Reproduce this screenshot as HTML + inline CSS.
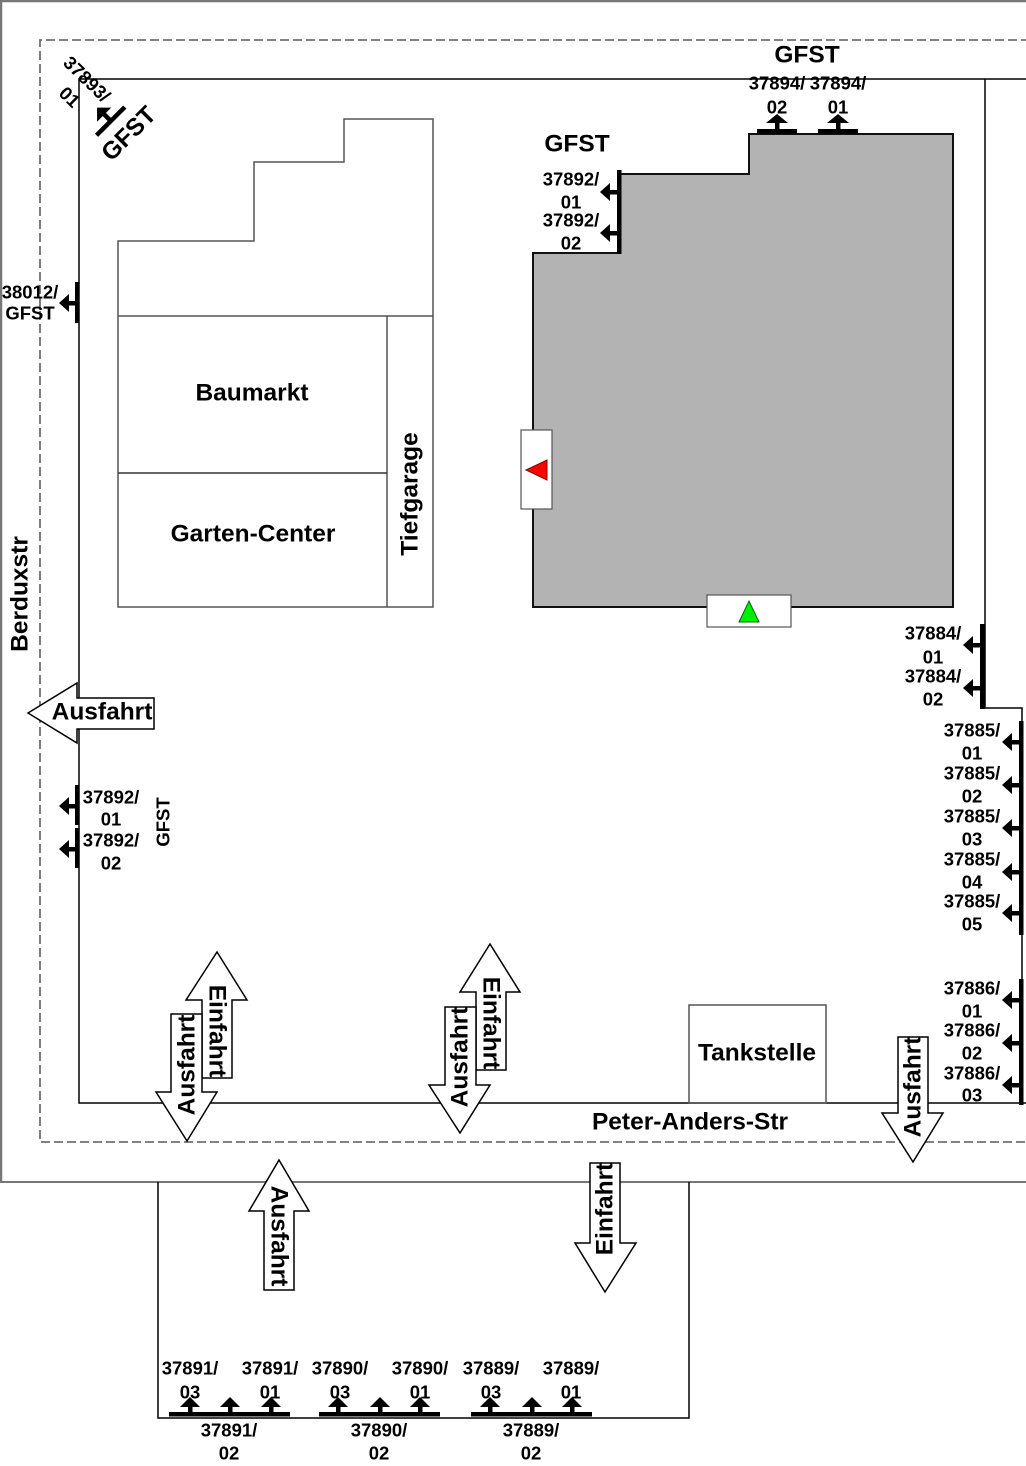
<!DOCTYPE html>
<html>
<head>
<meta charset="utf-8">
<style>
  html,body{margin:0;padding:0;background:#fff;}
  svg{display:block;}
  text{font-family:"Liberation Sans",Arial,sans-serif;font-weight:bold;fill:#000;}
  .s{font-size:18.5px;}
  .b{font-size:24.5px;}
</style>
</head>
<body>
<svg width="1026" height="1466" viewBox="0 0 1026 1466" xmlns="http://www.w3.org/2000/svg">
  <!-- outer gray frame -->
  <path d="M1 1182 L1 1 L1030 1" fill="none" stroke="#777" stroke-width="2.5"/>
  <line x1="0" y1="1182" x2="1026" y2="1182" stroke="#777" stroke-width="2"/>
  <!-- dashed boundary -->
  <path d="M1030 40 L40 40 L40 1142 L1030 1142" fill="none" stroke="#707070" stroke-width="1.8" stroke-dasharray="9,4"/>
  <!-- property line -->
  <path d="M1030 79 L79 79 L79 1103 L1030 1103" fill="none" stroke="#000" stroke-width="1.5"/>
  <path d="M985 79 L985 708 L1022 708 L1022 1103" fill="none" stroke="#000" stroke-width="1.5"/>
  <!-- lower box -->
  <path d="M158 1182 L158 1418 L689 1418 L689 1182" fill="none" stroke="#000" stroke-width="1.5"/>

  <!-- Baumarkt building -->
  <polygon points="118,241 254,241 254,162 344,162 344,119 433,119 433,607 118,607" fill="none" stroke="#555" stroke-width="1.5"/>
  <line x1="118" y1="316" x2="433" y2="316" stroke="#555" stroke-width="1.5"/>
  <line x1="387" y1="316" x2="387" y2="607" stroke="#555" stroke-width="1.5"/>
  <line x1="118" y1="473" x2="387" y2="473" stroke="#333" stroke-width="1.5"/>
  <text class="b" x="252" y="393" text-anchor="middle" dominant-baseline="central">Baumarkt</text>
  <text class="b" x="253" y="534" text-anchor="middle" dominant-baseline="central">Garten-Center</text>
  <text class="b" transform="translate(410,494) rotate(-90)" text-anchor="middle" dominant-baseline="central">Tiefgarage</text>

  <!-- gray building -->
  <polygon points="533,253 619,253 619,174 749,174 749,134 953,134 953,607 533,607" fill="#b3b3b3" stroke="#111" stroke-width="2"/>
  <rect x="521" y="430" width="31" height="79" fill="#fff" stroke="#555" stroke-width="1.2"/>
  <polygon points="526,470 547,460 547,480" fill="#f00" stroke="#800" stroke-width="1"/>
  <rect x="707" y="595" width="84" height="32" fill="#fff" stroke="#555" stroke-width="1.2"/>
  <polygon points="749,601 759,622 739,622" fill="#0e0" stroke="#060" stroke-width="1"/>

  <!-- Tankstelle -->
  <rect x="689" y="1005" width="137" height="98" fill="none" stroke="#555" stroke-width="1.5"/>
  <text class="b" x="757" y="1053" text-anchor="middle" dominant-baseline="central">Tankstelle</text>

  <!-- street labels -->
  <text class="b" x="690" y="1122" text-anchor="middle" dominant-baseline="central">Peter-Anders-Str</text>
  <text class="b" transform="translate(20,594) rotate(-90)" text-anchor="middle" dominant-baseline="central">Berduxstr</text>

  <!-- GFST labels -->
  <text class="b" x="807" y="55" text-anchor="middle" dominant-baseline="central">GFST</text>
  <text class="b" x="577" y="144" text-anchor="middle" dominant-baseline="central">GFST</text>

  <!-- top sensors 37894 -->
  <g fill="#000">
    <rect x="757" y="129" width="40" height="4.5"/>
    <rect x="775" y="122" width="4.5" height="8"/>
    <polygon points="777,114 788,123 766,123"/>
    <rect x="818" y="129" width="40" height="4.5"/>
    <rect x="836" y="122" width="4.5" height="8"/>
    <polygon points="838,114 849,123 827,123"/>
  </g>
  <text class="s" x="777" y="83" text-anchor="middle" dominant-baseline="central">37894/</text>
  <text class="s" x="777" y="107" text-anchor="middle" dominant-baseline="central">02</text>
  <text class="s" x="838" y="83" text-anchor="middle" dominant-baseline="central">37894/</text>
  <text class="s" x="838" y="107" text-anchor="middle" dominant-baseline="central">01</text>

  <!-- 37892 on gray building -->
  <g fill="#000">
    <rect x="617" y="170" width="4.5" height="84"/>
    <rect x="608" y="190" width="11" height="4.5"/>
    <polygon points="600,192 610,183 610,201"/>
    <rect x="608" y="231" width="11" height="4.5"/>
    <polygon points="600,233 610,224 610,242"/>
  </g>
  <text class="s" x="571" y="179" text-anchor="middle" dominant-baseline="central">37892/</text>
  <text class="s" x="571" y="202" text-anchor="middle" dominant-baseline="central">01</text>
  <text class="s" x="571" y="220" text-anchor="middle" dominant-baseline="central">37892/</text>
  <text class="s" x="571" y="243" text-anchor="middle" dominant-baseline="central">02</text>

  <!-- 37893/01 diagonal -->
  <g transform="translate(110.5,121) rotate(-45)" fill="#000">
    <rect x="-20" y="-2" width="40" height="4.5"/>
    <rect x="-2" y="-10" width="4.5" height="9"/>
    <polygon points="0,-19 -10,-9 10,-9"/>
  </g>
  <g transform="translate(87,79) rotate(44)">
    <text class="s" x="0" y="0" text-anchor="middle" dominant-baseline="central">37893/</text>
    <text class="s" x="0" y="25" text-anchor="middle" dominant-baseline="central">01</text>
  </g>
  <text class="b" transform="translate(129,134) rotate(-45)" text-anchor="middle" dominant-baseline="central">GFST</text>

  <!-- 38012/GFST -->
  <g fill="#000">
    <rect x="75" y="282" width="4.5" height="41"/>
    <rect x="67" y="301" width="9" height="4.5"/>
    <polygon points="59,303 69,294 69,312"/>
  </g>
  <text class="s" x="30" y="292" text-anchor="middle" dominant-baseline="central">38012/</text>
  <text class="s" x="30" y="313" text-anchor="middle" dominant-baseline="central">GFST</text>

  <!-- left Ausfahrt arrow -->
  <polygon points="28,713 77,683 77,698 154,698 154,729 77,729 77,743" fill="#fff" stroke="#000" stroke-width="1.5"/>
  <text class="b" x="102" y="712" text-anchor="middle" dominant-baseline="central">Ausfahrt</text>

  <!-- left 37892 sensors -->
  <g fill="#000">
    <rect x="75" y="785" width="4.5" height="40"/>
    <rect x="67" y="804" width="9" height="4.5"/>
    <polygon points="59,806 69,797 69,815"/>
    <rect x="75" y="828" width="4.5" height="40"/>
    <rect x="67" y="847" width="9" height="4.5"/>
    <polygon points="59,849 69,840 69,858"/>
  </g>
  <text class="s" x="111" y="797" text-anchor="middle" dominant-baseline="central">37892/</text>
  <text class="s" x="111" y="819" text-anchor="middle" dominant-baseline="central">01</text>
  <text class="s" x="111" y="840" text-anchor="middle" dominant-baseline="central">37892/</text>
  <text class="s" x="111" y="863" text-anchor="middle" dominant-baseline="central">02</text>
  <text class="s" transform="translate(163,822) rotate(-90)" text-anchor="middle" dominant-baseline="central">GFST</text>

  <!-- right 37884 -->
  <g fill="#000">
    <rect x="980" y="624" width="4.5" height="85"/>
    <rect x="971" y="643" width="10" height="4.5"/>
    <polygon points="963,645 973,636 973,654"/>
    <rect x="971" y="686" width="10" height="4.5"/>
    <polygon points="963,688 973,679 973,697"/>
  </g>
  <text class="s" x="933" y="633" text-anchor="middle" dominant-baseline="central">37884/</text>
  <text class="s" x="933" y="657" text-anchor="middle" dominant-baseline="central">01</text>
  <text class="s" x="933" y="676" text-anchor="middle" dominant-baseline="central">37884/</text>
  <text class="s" x="933" y="699" text-anchor="middle" dominant-baseline="central">02</text>

  <!-- right 37885 -->
  <g fill="#000">
    <rect x="1019" y="721" width="4.5" height="214"/>
    <rect x="1010" y="740" width="10" height="4.5"/><polygon points="1002,742 1012,733 1012,751"/>
    <rect x="1010" y="783" width="10" height="4.5"/><polygon points="1002,785 1012,776 1012,794"/>
    <rect x="1010" y="826" width="10" height="4.5"/><polygon points="1002,828 1012,819 1012,837"/>
    <rect x="1010" y="870" width="10" height="4.5"/><polygon points="1002,872 1012,863 1012,881"/>
    <rect x="1010" y="911" width="10" height="4.5"/><polygon points="1002,913 1012,904 1012,922"/>
  </g>
  <text class="s" x="972" y="730" text-anchor="middle" dominant-baseline="central">37885/</text>
  <text class="s" x="972" y="753" text-anchor="middle" dominant-baseline="central">01</text>
  <text class="s" x="972" y="773" text-anchor="middle" dominant-baseline="central">37885/</text>
  <text class="s" x="972" y="796" text-anchor="middle" dominant-baseline="central">02</text>
  <text class="s" x="972" y="816" text-anchor="middle" dominant-baseline="central">37885/</text>
  <text class="s" x="972" y="839" text-anchor="middle" dominant-baseline="central">03</text>
  <text class="s" x="972" y="859" text-anchor="middle" dominant-baseline="central">37885/</text>
  <text class="s" x="972" y="882" text-anchor="middle" dominant-baseline="central">04</text>
  <text class="s" x="972" y="901" text-anchor="middle" dominant-baseline="central">37885/</text>
  <text class="s" x="972" y="924" text-anchor="middle" dominant-baseline="central">05</text>

  <!-- right 37886 -->
  <g fill="#000">
    <rect x="1019" y="979" width="4.5" height="126"/>
    <rect x="1010" y="998" width="10" height="4.5"/><polygon points="1002,1000 1012,991 1012,1009"/>
    <rect x="1010" y="1041" width="10" height="4.5"/><polygon points="1002,1043 1012,1034 1012,1052"/>
    <rect x="1010" y="1083" width="10" height="4.5"/><polygon points="1002,1085 1012,1076 1012,1094"/>
  </g>
  <text class="s" x="972" y="988" text-anchor="middle" dominant-baseline="central">37886/</text>
  <text class="s" x="972" y="1011" text-anchor="middle" dominant-baseline="central">01</text>
  <text class="s" x="972" y="1030" text-anchor="middle" dominant-baseline="central">37886/</text>
  <text class="s" x="972" y="1053" text-anchor="middle" dominant-baseline="central">02</text>
  <text class="s" x="972" y="1073" text-anchor="middle" dominant-baseline="central">37886/</text>
  <text class="s" x="972" y="1095" text-anchor="middle" dominant-baseline="central">03</text>

  <!-- bottom arrows pair 1 -->
  <polygon points="217,952 247,1000 232,1000 232,1078 202,1078 202,1000 186,1000" fill="#fff" stroke="#000" stroke-width="1.5"/>
  <text class="b" transform="translate(217,1031) rotate(90)" text-anchor="middle" dominant-baseline="central">Einfahrt</text>
  <polygon points="171,1014 202,1014 202,1092 217,1092 187,1141 156,1092 171,1092" fill="#fff" stroke="#000" stroke-width="1.5"/>
  <text class="b" transform="translate(187,1065) rotate(-90)" text-anchor="middle" dominant-baseline="central">Ausfahrt</text>

  <!-- bottom arrows pair 2 -->
  <polygon points="490,944 520,992 506,992 506,1070 476,1070 476,992 460,992" fill="#fff" stroke="#000" stroke-width="1.5"/>
  <text class="b" transform="translate(491,1023) rotate(90)" text-anchor="middle" dominant-baseline="central">Einfahrt</text>
  <polygon points="445,1007 476,1007 476,1085 490,1085 460,1133 429,1085 445,1085" fill="#fff" stroke="#000" stroke-width="1.5"/>
  <text class="b" transform="translate(460,1057) rotate(-90)" text-anchor="middle" dominant-baseline="central">Ausfahrt</text>

  <!-- right Ausfahrt -->
  <polygon points="898,1037 928,1037 928,1113 943,1113 913,1162 882,1113 898,1113" fill="#fff" stroke="#000" stroke-width="1.5"/>
  <text class="b" transform="translate(913,1087) rotate(-90)" text-anchor="middle" dominant-baseline="central">Ausfahrt</text>

  <!-- lower arrows -->
  <polygon points="279,1160 309,1211 294,1211 294,1290 264,1290 264,1211 249,1211" fill="#fff" stroke="#000" stroke-width="1.5"/>
  <text class="b" transform="translate(279,1236) rotate(90)" text-anchor="middle" dominant-baseline="central">Ausfahrt</text>
  <polygon points="590,1163 620,1163 620,1243 636,1243 605,1292 575,1243 590,1243" fill="#fff" stroke="#000" stroke-width="1.5"/>
  <text class="b" transform="translate(605,1209) rotate(-90)" text-anchor="middle" dominant-baseline="central">Einfahrt</text>

  <!-- lower sensors -->
  <g fill="#000">
    <rect x="169" y="1412" width="121" height="4.5"/>
    <rect x="319" y="1412" width="121" height="4.5"/>
    <rect x="471" y="1412" width="121" height="4.5"/>
    <rect x="188" y="1406" width="4.5" height="7"/><polygon points="190,1397 200,1407 180,1407"/>
    <rect x="228" y="1406" width="4.5" height="7"/><polygon points="230,1397 240,1407 220,1407"/>
    <rect x="269" y="1406" width="4.5" height="7"/><polygon points="271,1397 281,1407 261,1407"/>
    <rect x="336" y="1406" width="4.5" height="7"/><polygon points="338,1397 348,1407 328,1407"/>
    <rect x="378" y="1406" width="4.5" height="7"/><polygon points="380,1397 390,1407 370,1407"/>
    <rect x="418" y="1406" width="4.5" height="7"/><polygon points="420,1397 430,1407 410,1407"/>
    <rect x="488" y="1406" width="4.5" height="7"/><polygon points="490,1397 500,1407 480,1407"/>
    <rect x="530" y="1406" width="4.5" height="7"/><polygon points="532,1397 542,1407 522,1407"/>
    <rect x="570" y="1406" width="4.5" height="7"/><polygon points="572,1397 582,1407 562,1407"/>
  </g>
  <text class="s" x="190" y="1368" text-anchor="middle" dominant-baseline="central">37891/</text>
  <text class="s" x="190" y="1392" text-anchor="middle" dominant-baseline="central">03</text>
  <text class="s" x="270" y="1368" text-anchor="middle" dominant-baseline="central">37891/</text>
  <text class="s" x="270" y="1392" text-anchor="middle" dominant-baseline="central">01</text>
  <text class="s" x="229" y="1430" text-anchor="middle" dominant-baseline="central">37891/</text>
  <text class="s" x="229" y="1453" text-anchor="middle" dominant-baseline="central">02</text>

  <text class="s" x="340" y="1368" text-anchor="middle" dominant-baseline="central">37890/</text>
  <text class="s" x="340" y="1392" text-anchor="middle" dominant-baseline="central">03</text>
  <text class="s" x="420" y="1368" text-anchor="middle" dominant-baseline="central">37890/</text>
  <text class="s" x="420" y="1392" text-anchor="middle" dominant-baseline="central">01</text>
  <text class="s" x="379" y="1430" text-anchor="middle" dominant-baseline="central">37890/</text>
  <text class="s" x="379" y="1453" text-anchor="middle" dominant-baseline="central">02</text>

  <text class="s" x="491" y="1368" text-anchor="middle" dominant-baseline="central">37889/</text>
  <text class="s" x="491" y="1392" text-anchor="middle" dominant-baseline="central">03</text>
  <text class="s" x="571" y="1368" text-anchor="middle" dominant-baseline="central">37889/</text>
  <text class="s" x="571" y="1392" text-anchor="middle" dominant-baseline="central">01</text>
  <text class="s" x="531" y="1430" text-anchor="middle" dominant-baseline="central">37889/</text>
  <text class="s" x="531" y="1453" text-anchor="middle" dominant-baseline="central">02</text>
</svg>
</body>
</html>
